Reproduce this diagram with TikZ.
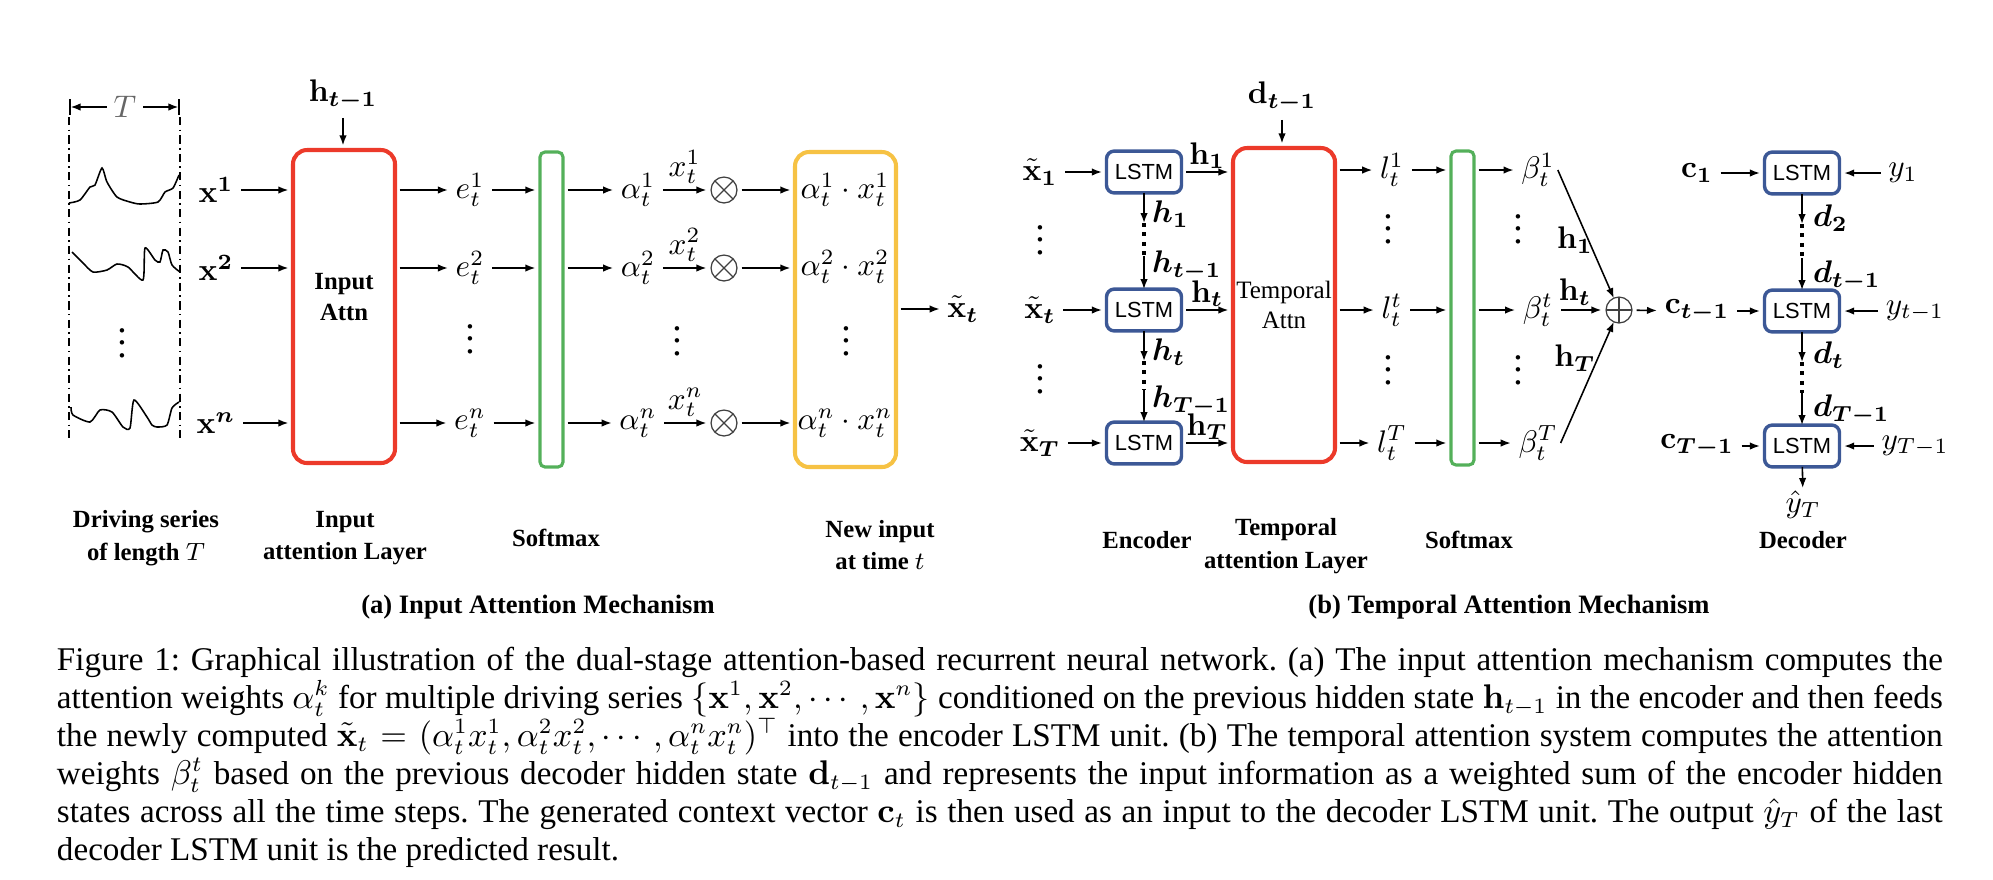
\documentclass[tikz,border=0pt]{standalone}
\usepackage[no-math]{fontspec}
\setmainfont{Liberation Serif}
\setsansfont{Liberation Sans}
\usepackage{amsmath}
\usepackage{bm}
\usetikzlibrary{arrows.meta,fit,positioning}
\definecolor{attnred}{RGB}{236,58,42}
\definecolor{smgreen}{RGB}{84,176,90}
\definecolor{newyellow}{RGB}{246,194,68}
\definecolor{lstmblue}{RGB}{60,88,150}
\newcommand{\lblfont}{\fontsize{10}{11}\selectfont}
\frenchspacing
\begin{document}
\begin{tikzpicture}[x=0.32pt,y=-0.32pt,inner sep=0pt,outer sep=0pt,
>={Latex[length=3.2pt,width=2.4pt]},
arr/.style={->,line width=0.5pt,shorten >=1.5pt,shorten <=1.5pt},
varr/.style={->,line width=0.5pt},
lbl/.style={inner sep=1pt,font=\lblfont},
vd/.style={anchor=south,font=\fontsize{12}{12}\selectfont},
attnbox/.style={draw=attnred,line width=1.3pt,rounded corners=4.5pt},
smbox/.style={draw=smgreen,line width=1pt,rounded corners=1.6pt},
newbox/.style={draw=newyellow,line width=1.3pt,rounded corners=4.5pt},
lstm/.style={draw=lstmblue,line width=1.1pt,rounded corners=2.5pt,minimum width=24pt,minimum height=13.4pt,font=\sffamily\fontsize{7}{8}\selectfont},
opnode/.style={circle,draw=black!75,line width=0.4pt,minimum size=8.3pt},
mult/.style={opnode,path picture={\draw[black!75,line width=0.4pt] (path picture bounding box.north west) -- (path picture bounding box.south east) (path picture bounding box.north east) -- (path picture bounding box.south west);}},
plus/.style={opnode,path picture={\draw[black!75,line width=0.4pt] (path picture bounding box.north) -- (path picture bounding box.south) (path picture bounding box.west) -- (path picture bounding box.east);}},
dotline/.style={line width=1.3pt,dash pattern=on 1.3pt off 1.7pt},
framedash/.style={line width=0.6pt,dash pattern=on 2.6pt off 1.4pt on 0.5pt off 1.4pt},
sublbl/.style={font=\bfseries\fontsize{7.9}{10.5}\selectfont,align=center},
ttl/.style={font=\bfseries\fontsize{8.5}{10}\selectfont},
capline/.style={anchor=base west,font=\fontsize{10.6}{12}\selectfont}]
\useasboundingbox (0,0) rectangle (1993,879);

% (a) driving series
\coordinate (Tl) at (69,107);
\coordinate (Tr) at (180,107);
\draw[|<->|,line width=0.5pt] (Tl) -- (Tr);
\node[fill=white,inner sep=2pt,font=\lblfont,text=black!60] (T) at (125,107) {$T$};
\draw[framedash] (69,117) -- (69,438);
\draw[framedash] (180,117) -- (180,438);
\draw[line width=0.5pt] plot[smooth,tension=0.4] coordinates {(69,203) (80,200) (90,187) (95,185) (102,168) (107,182) (117,197) (130,202) (140,204) (158,202) (165,192) (173,188) (179,175)};
\draw[line width=0.5pt] plot[smooth,tension=0.4] coordinates {(72,252) (83,263) (93,272) (107,270) (117,264) (128,267) (143,280) (145,248) (155,260) (160,262) (163,250) (168,252) (172,265) (180,272)};
\draw[line width=0.5pt] plot[smooth,tension=0.4] coordinates {(71,407) (73,415) (90,422) (100,410) (112,412) (123,427) (130,428) (134,400) (147,417) (152,425) (157,427) (167,425) (172,408) (179,402)};
\node[vd] (sd) at (122,358) {$\vdots$};

% (a) input attention
\node[attnbox,fit={(293,150) (395,463)}] (inattn) {};
\node[font=\bfseries\fontsize{7.9}{10}\selectfont,align=center] (inattnlbl) at (344,297) {Input\\Attn};
\node[lbl] (ht1) at (343,95) {$\mathbf{h}_{\bm{t-1}}$};
\draw[arr] (ht1) -- (ht1 |- inattn.north);
\node[lbl] (x1) at (216,190) {$\mathbf{x}^{\mathbf{1}}$};
\node[lbl] (x2) at (216,268) {$\mathbf{x}^{\mathbf{2}}$};
\node[lbl] (xn) at (216,423) {$\mathbf{x}^{\bm{n}}$};
\draw[arr] (x1) -- (x1 -| inattn.west);
\draw[arr] (x2) -- (x2 -| inattn.west);
\draw[arr] (xn) -- (xn -| inattn.west);

\node[smbox,fit={(540,152) (563,467)}] (smin) {};
\node[newbox,fit={(795,152) (896,467)}] (newin) {};

\node[lbl] (e1) at (470,190) {$e_t^1$};
\node[lbl] (e2) at (470,268) {$e_t^2$};
\node[vd] (ed) at (470,354) {$\vdots$};
\node[lbl] (en) at (470,423) {$e_t^n$};
\foreach \r in {e1,e2,en} {
  \draw[arr] (inattn.east |- \r) -- (\r);
  \draw[arr] (\r) -- (\r -| smin.west);
}

\node[lbl] (a1) at (638,190) {$\alpha_t^1$};
\node[lbl] (a2) at (638,268) {$\alpha_t^2$};
\node[vd] (ad) at (677,356) {$\vdots$};
\node[lbl] (an) at (638,423) {$\alpha_t^n$};
\node[mult] (m1) at (724,190) {};
\node[mult] (m2) at (724,268) {};
\node[mult] (mn) at (724,423) {};
\draw[arr] (smin.east |- a1) -- (a1);
\draw[arr] (smin.east |- a2) -- (a2);
\draw[arr] (smin.east |- an) -- (an);
\draw[arr] (a1) -- node[lbl,above=1pt] (lx1) {$x_t^1$} (m1);
\draw[arr] (a2) -- node[lbl,above=1pt] (lx2) {$x_t^2$} (m2);
\draw[arr] (an) -- node[lbl,above=1pt] (lxn) {$x_t^n$} (mn);
\draw[arr] (m1) -- (m1 -| newin.west);
\draw[arr] (m2) -- (m2 -| newin.west);
\draw[arr] (mn) -- (mn -| newin.west);

\node[lbl] (p1) at (845,190) {$\alpha_t^1 \cdot x_t^1$};
\node[lbl] (p2) at (845,267) {$\alpha_t^2 \cdot x_t^2$};
\node[vd] (pd) at (846,356) {$\vdots$};
\node[lbl] (pn) at (845,423) {$\alpha_t^n \cdot x_t^n$};
\node[lbl] (xt) at (963,309) {$\tilde{\mathbf{x}}_{\bm t}$};
\draw[arr] (newin.east |- xt) -- (xt);

\node[sublbl] (drv) at (146,538) {Driving series\\of length $T$};
\node[sublbl] (inl) at (345,538) {Input\\attention Layer};
\node[sublbl] (sml) at (556,538) {Softmax};
\node[sublbl] (nwl) at (880,545) {New input\\at time $t$};
\node[ttl] (ta) at (538,607) {(a) Input Attention Mechanism};

% (b) encoder
\node[lstm] (enc1) at (1144,172) {LSTM};
\node[lstm] (enc2) at (1144,310) {LSTM};
\node[lstm] (enc3) at (1144,443) {LSTM};
\node[lbl] (xe1) at (1040,172) {$\tilde{\mathbf{x}}_{\mathbf 1}$};
\node[lbl] (xet) at (1040,310) {$\tilde{\mathbf{x}}_{\bm t}$};
\node[lbl] (xeT) at (1040,443) {$\tilde{\mathbf{x}}_{\bm T}$};
\draw[arr] (xe1) -- (enc1);
\draw[arr] (xet) -- (enc2);
\draw[arr] (xeT) -- (enc3);
\node[vd] (ed1) at (1040,255) {$\vdots$};
\node[vd] (ed2) at (1040,394) {$\vdots$};

\coordinate (ea1) at (1144,223);
\coordinate (eb1) at (1144,256);
\coordinate (ea2) at (1144,361);
\coordinate (eb2) at (1144,390);
\draw[varr] (enc1) -- (ea1);
\draw[dotline] (ea1) -- (eb1);
\draw[varr] (eb1) -- (enc2);
\draw[varr] (enc2) -- (ea2);
\draw[dotline] (ea2) -- (eb2);
\draw[varr] (eb2) -- (enc3);
\node[lbl,anchor=west] (vh1) at (1149,214) {$\bm{h}_{\bm 1}$};
\node[lbl,anchor=west] (vht1) at (1149,266) {$\bm{h}_{\bm{t-1}}$};
\node[lbl,anchor=west] (vht) at (1149,352) {$\bm{h}_{\bm t}$};
\node[lbl,anchor=west] (vhT1) at (1149,401) {$\bm{h}_{\bm{T-1}}$};

% (b) temporal attention
\node[attnbox,fit={(1233,148) (1335,462)}] (tattn) {};
\node[font=\fontsize{8}{9.6}\selectfont,align=center] (tattnlbl) at (1284,305) {Temporal\\Attn};
\node[lbl] (dt1) at (1282,97) {$\mathbf{d}_{\bm{t-1}}$};
\draw[arr] (dt1) -- (dt1 |- tattn.north);
\draw[arr] (enc1) -- node[lbl,above=0pt] (lh1) {$\mathbf{h}_{\mathbf 1}$} (enc1 -| tattn.west);
\draw[arr] (enc2) -- node[lbl,above=0pt] (lht) {$\mathbf{h}_{\bm t}$} (enc2 -| tattn.west);
\draw[arr] (enc3) -- node[lbl,above=0pt] (lhT) {$\mathbf{h}_{\bm T}$} (enc3 -| tattn.west);

\node[smbox,fit={(1451,151) (1474,465)}] (smt) {};
\node[lbl] (l1) at (1392,170) {$l_t^1$};
\node[lbl] (lt) at (1392,310) {$l_t^t$};
\node[lbl] (lT) at (1392,443) {$l_t^T$};
\node[vd] (ld1) at (1388,244) {$\vdots$};
\node[vd] (ld2) at (1388,385) {$\vdots$};
\node[lbl] (b1) at (1538,170) {$\beta_t^1$};
\node[lbl] (bt) at (1538,310) {$\beta_t^t$};
\node[lbl] (bT) at (1538,443) {$\beta_t^T$};
\node[vd] (bd1) at (1518,244) {$\vdots$};
\node[vd] (bd2) at (1518,385) {$\vdots$};
\foreach \r/\s in {l1/b1,lt/bt,lT/bT} {
  \draw[arr] (tattn.east |- \r) -- (\r);
  \draw[arr] (\r) -- (\r -| smt.west);
  \draw[arr] (smt.east |- \s) -- (\s);
}

\node[plus] (sum) at (1619,310) {};
\draw[varr] (b1.east) -- (sum);
\draw[arr] (bt) -- (sum);
\draw[varr] (bT.east) -- (sum);
\node[lbl] (sh1) at (1575,240) {$\mathbf{h}_{\mathbf 1}$};
\node[lbl] (sht) at (1575,292) {$\mathbf{h}_{\bm t}$};
\node[lbl] (shT) at (1575,358) {$\mathbf{h}_{\bm T}$};

% (b) decoder
\node[lstm] (dec1) at (1802,173) {LSTM};
\node[lstm] (dec2) at (1802,311) {LSTM};
\node[lstm] (dec3) at (1802,446) {LSTM};
\node[lbl] (ctm1) at (1697,311) {$\mathbf{c}_{\bm{t-1}}$};
\node[lbl] (c1) at (1697,173) {$\mathbf{c}_{\mathbf 1}$};
\node[lbl] (cT1) at (1697,446) {$\mathbf{c}_{\bm{T-1}}$};
\draw[arr] (sum) -- (ctm1);
\draw[arr] (c1) -- (dec1);
\draw[arr] (ctm1) -- (dec2);
\draw[arr] (cT1) -- (dec3);
\node[lbl] (y1) at (1903,173) {$y_1$};
\node[lbl] (yt1) at (1915,311) {$y_{t-1}$};
\node[lbl] (yT1) at (1915,446) {$y_{T-1}$};
\draw[arr] (y1) -- (dec1);
\draw[arr] (yt1) -- (dec2);
\draw[arr] (yT1) -- (dec3);

\coordinate (da1) at (1802,224);
\coordinate (db1) at (1802,258);
\coordinate (da2) at (1802,362);
\coordinate (db2) at (1802,393);
\draw[varr] (dec1) -- (da1);
\draw[dotline] (da1) -- (db1);
\draw[varr] (db1) -- (dec2);
\draw[varr] (dec2) -- (da2);
\draw[dotline] (da2) -- (db2);
\draw[varr] (db2) -- (dec3);
\node[lbl,anchor=west] (vd2) at (1810,218) {$\bm{d}_{\bm 2}$};
\node[lbl,anchor=west] (vdt1) at (1810,276) {$\bm{d}_{\bm{t-1}}$};
\node[lbl,anchor=west] (vdt) at (1810,355) {$\bm{d}_{\bm t}$};
\node[lbl,anchor=west] (vdT1) at (1810,410) {$\bm{d}_{\bm{T-1}}$};
\node[lbl] (yhat) at (1803,505) {$\hat{y}_T$};
\draw[varr] (dec3) -- (yhat);

\node[sublbl] (encl) at (1147,540) {Encoder};
\node[sublbl] (tal) at (1286,546) {Temporal\\attention Layer};
\node[sublbl] (smtl) at (1469,540) {Softmax};
\node[sublbl] (decl) at (1803,540) {Decoder};
\node[ttl] (tb) at (1509,607) {(b) Temporal Attention Mechanism};

% caption
\node[capline] (cap1) at (57,670) {\makebox[603.5pt][s]{Figure 1: Graphical illustration of the dual-stage attention-based recurrent neural network. (a) The input attention mechanism computes the}};
\node[capline] (cap2) at (57,708) {\makebox[603.5pt][s]{attention weights $\alpha_t^k$ for multiple driving series $\{\mathbf{x}^1, \mathbf{x}^2, \cdots, \mathbf{x}^n\}$ conditioned on the previous hidden state $\mathbf{h}_{t-1}$ in the encoder and then feeds}};
\node[capline] (cap3) at (57,746) {\makebox[603.5pt][s]{the newly computed $\tilde{\mathbf{x}}_t = (\alpha_t^1 x_t^1, \alpha_t^2 x_t^2, \cdots, \alpha_t^n x_t^n)^\top$ into the encoder LSTM unit. (b) The temporal attention system computes the attention}};
\node[capline] (cap4) at (57,784) {\makebox[603.5pt][s]{weights $\beta_t^t$ based on the previous decoder hidden state $\mathbf{d}_{t-1}$ and represents the input information as a weighted sum of the encoder hidden}};
\node[capline] (cap5) at (57,822) {\makebox[603.5pt][s]{states across all the time steps. The generated context vector $\mathbf{c}_t$ is then used as an input to the decoder LSTM unit. The output $\hat{y}_T$ of the last}};
\node[capline] (cap6) at (57,860) {decoder LSTM unit is the predicted result.};
\end{tikzpicture}
\end{document}
